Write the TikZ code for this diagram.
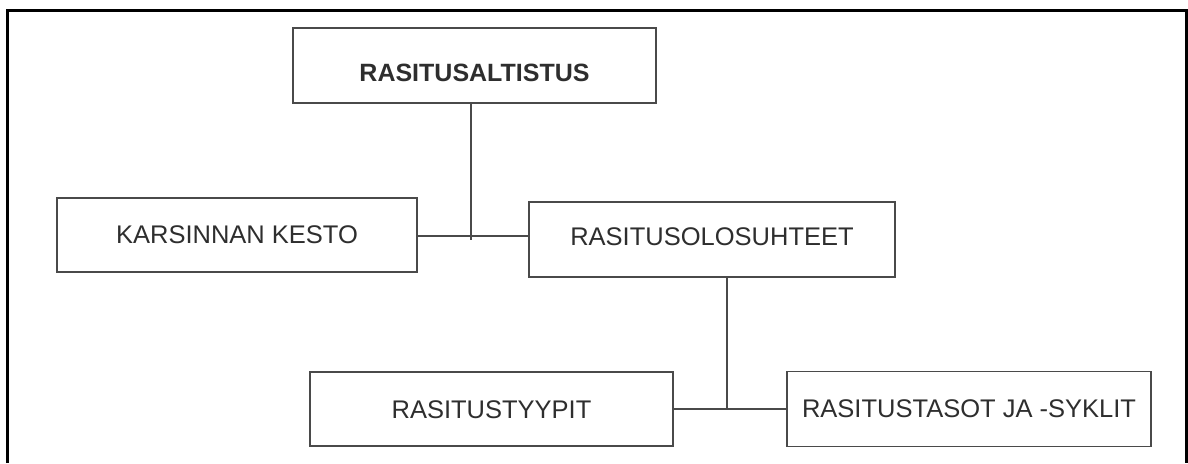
\documentclass[tikz,border=0pt]{standalone}
\usepackage{fontspec}
\setmainfont{Liberation Sans}
\definecolor{boxline}{HTML}{4A4A4A}
\definecolor{txt}{HTML}{2E2E2E}
\newcommand{\shifttext}[2]{\raisebox{#1}[\height][\depth]{#2}}
\begin{document}
\begin{tikzpicture}[x=1pt,y=-1pt,
  box/.style={draw=boxline,line width=1.7pt,rectangle,inner sep=0pt,
    minimum width=#1,minimum height=75pt,text=txt,
    font=\fontsize{25.5pt}{30pt}\selectfont},
  box/.default=363pt,
  conn/.style={draw=boxline,line width=1.7pt}]
\useasboundingbox (0,0) rectangle (1188,463);
\fill[white] (0,0) rectangle (1188,463);
% outer frame (open at the bottom)
\draw[line width=3pt,black] (7,463) -- (7,10) -- (1186.5,10) -- (1186.5,463);
% boxes
\node[box=363pt,font=\fontsize{25pt}{30pt}\selectfont\bfseries] (alt) at (474.5,65.5) {\shifttext{-7pt}{RASITUSALTISTUS}};
\node[box=360pt,minimum height=74pt] (kar) at (237,235) {KARSINNAN KESTO};
\node[box=366pt] (olo) at (712,239.5) {\shifttext{3pt}{RASITUSOLOSUHTEET}};
\node[box=363pt,minimum height=74pt] (tyy) at (491.5,409) {\shifttext{-1pt}{RASITUSTYYPIT}};
\node[box=364pt] (tas) at (969,409) {RASITUSTASOT JA -SYKLIT};
% junctions
\coordinate (j1) at (471,236);
\coordinate (j1e) at (471,240);
\coordinate (j2) at (727,409);
% connectors
\draw[conn] (alt.south -| j1) -- (j1e);
\draw[conn] (kar.east |- j1) -- (olo.west |- j1);
\draw[conn] (olo.south -| j2) -- (j2);
\draw[conn] (tyy.east |- j2) -- (tas.west |- j2);
\end{tikzpicture}
\end{document}
